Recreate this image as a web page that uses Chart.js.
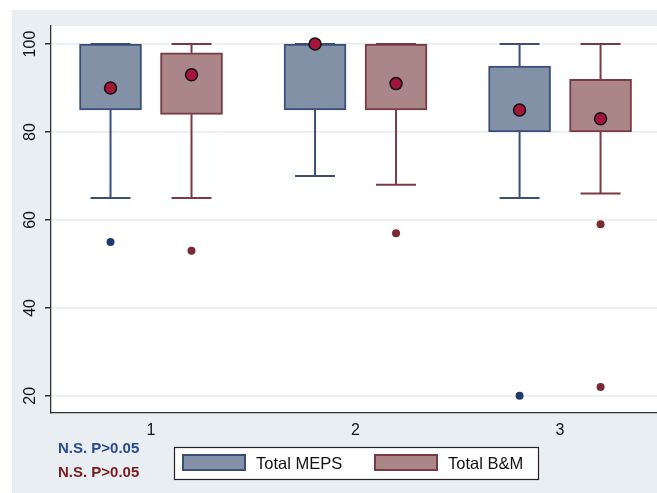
<!DOCTYPE html>
<html>
<head>
<meta charset="utf-8">
<script src="https://cdn.jsdelivr.net/npm/chart.js@4.4.1/dist/chart.umd.min.js"></script>
<style>
  html, body { margin: 0; padding: 0; background: #fff; }
  #wrap { width: 657px; height: 493px; position: relative; }
</style>
</head>
<body>
<div id="wrap"><canvas id="myChart" width="657" height="493"></canvas></div>
<script>
// data
const categories = [1, 2, 3];
const seriesNames = ['Total MEPS', 'Total B&M'];

const mepsLow = [65, 70, 65];
const mepsQ1 = [85, 85, 80];
const mepsQ3 = [100, 100, 95];
const mepsHigh = [100, 100, 100];
const mepsMean = [90, 100, 85];
const mepsOutliers = [[55], [], [20]];

const bmLow = [65, 68, 66];
const bmQ1 = [84, 85, 80];
const bmQ3 = [98, 100, 92];
const bmHigh = [100, 100, 100];
const bmMean = [93, 91, 83];
const bmOutliers = [[53], [57], [59, 22]];

const yTicks = [20, 40, 60, 80, 100];
const notes = ['N.S. P>0.05', 'N.S. P>0.05'];

// styles
const shift = 0.198;
const fills = ['#8391a7', '#aa8689'];
const borders = ['#3b4e7a', '#7a3a43'];
const outlierColors = ['#1f3a6e', '#7b2a33'];
const meanColor = '#a3163a';
const noteColors = ['#2a4a8e', '#7a1c1e'];
const font = 'Liberation Sans, Arial, Helvetica, sans-serif';

const series = [
  { low: mepsLow, q1: mepsQ1, q3: mepsQ3, high: mepsHigh, mean: mepsMean, out: mepsOutliers, off: -shift },
  { low: bmLow, q1: bmQ1, q3: bmQ3, high: bmHigh, mean: bmMean, out: bmOutliers, off: shift }
];

const datasets = [];
series.forEach((s, i) => {
  datasets.push({
    type: 'bar',
    label: seriesNames[i],
    data: categories.map((c, j) => ({ x: c + s.off, y: [s.q1[j], s.q3[j]] })),
    backgroundColor: fills[i],
    borderColor: borders[i],
    borderWidth: 2,
    borderSkipped: false,
    barThickness: 62,
    grouped: false,
    order: 3
  });
  const outPts = [];
  categories.forEach((c, j) => s.out[j].forEach(v => outPts.push({ x: c + s.off, y: v })));
  datasets.push({
    type: 'scatter',
    label: seriesNames[i] + ' outliers',
    data: outPts,
    pointRadius: 4,
    pointBackgroundColor: outlierColors[i],
    pointBorderWidth: 0,
    order: 2
  });
  datasets.push({
    type: 'scatter',
    label: seriesNames[i] + ' mean',
    data: categories.map((c, j) => ({ x: c + s.off, y: s.mean[j] })),
    pointRadius: 6,
    pointBackgroundColor: meanColor,
    pointBorderColor: '#111',
    pointBorderWidth: 1.5,
    order: 1
  });
});

// background, whiskers, notes and framed legend
const decor = {
  id: 'decor',
  beforeDraw(chart) {
    const c = chart.ctx, a = chart.chartArea;
    c.save();
    c.fillStyle = '#fff';
    c.fillRect(0, 0, chart.width, chart.height);
    c.fillStyle = '#e8eef2';
    c.fillRect(12, 10, chart.width - 12, chart.height - 10);
    c.fillStyle = '#fff';
    c.fillRect(a.left, a.top, a.right - a.left, a.bottom - a.top);
    c.restore();
  },
  beforeDatasetsDraw(chart) {
    const c = chart.ctx, x = chart.scales.x, y = chart.scales.y;
    c.save();
    c.lineWidth = 2;
    series.forEach((s, i) => {
      c.strokeStyle = borders[i];
      categories.forEach((cat, j) => {
        const px = x.getPixelForValue(cat + s.off);
        const segs = [[s.low[j], s.q1[j]], [s.q3[j], s.high[j]]];
        segs.forEach(([from, to]) => {
          if (from === to) return;
          c.beginPath();
          c.moveTo(px, y.getPixelForValue(from));
          c.lineTo(px, y.getPixelForValue(to));
          c.stroke();
        });
        [s.low[j], s.high[j]].forEach(v => {
          c.beginPath();
          c.moveTo(px - 20, y.getPixelForValue(v));
          c.lineTo(px + 20, y.getPixelForValue(v));
          c.stroke();
        });
      });
    });
    c.restore();
  },
  afterDraw(chart) {
    const c = chart.ctx;
    c.save();
    // p-value notes
    c.font = 'bold 15px ' + font;
    c.textBaseline = 'middle';
    c.textAlign = 'left';
    notes.forEach((t, i) => {
      c.fillStyle = noteColors[i];
      c.fillText(t, 58, 449 + i * 24);
    });
    // legend
    c.fillStyle = '#fff';
    c.fillRect(174, 447, 364, 32);
    c.strokeStyle = '#222';
    c.lineWidth = 1.2;
    c.strokeRect(174.5, 447.5, 364, 32);
    const itemX = [182, 374];
    c.font = '16.5px ' + font;
    seriesNames.forEach((name, i) => {
      c.fillStyle = fills[i];
      c.fillRect(itemX[i], 454, 64, 17);
      c.strokeStyle = borders[i];
      c.lineWidth = 2;
      c.strokeRect(itemX[i] + 1, 455, 62, 15);
      c.fillStyle = '#111';
      c.fillText(name, itemX[i] + 74, 464);
    });
    c.restore();
  }
};

function noPad(s) {
  s.paddingLeft = 0;
  s.paddingRight = 0;
  s.paddingTop = 0;
  s.paddingBottom = 0;
}

const ctx = document.getElementById('myChart').getContext('2d');
const myChart = new Chart(ctx, {
  data: { datasets: datasets },
  options: {
    responsive: false,
    animation: false,
    layout: { autoPadding: false, padding: { left: 12, top: 26, right: 0, bottom: 54 } },
    plugins: {
      legend: { display: false },
      tooltip: { enabled: false }
    },
    scales: {
      x: {
        type: 'linear',
        min: 0.511,
        max: 3.474,
        offset: false,
        afterBuildTicks: (s) => { s.ticks = categories.map(v => ({ value: v })); },
        afterFit: (s) => { s.height = 26; noPad(s); },
        grid: { display: false, drawTicks: false, offset: false },
        border: { display: true, color: '#333', width: 1.3 },
        ticks: { padding: 8, color: '#111', font: { family: font, size: 16 } }
      },
      y: {
        min: 16.1,
        max: 104.1,
        afterBuildTicks: (s) => { s.ticks = yTicks.map(v => ({ value: v })); },
        afterFit: (s) => { s.width = 39; noPad(s); },
        grid: { color: '#e6edf2', lineWidth: 1.5, tickColor: '#333', tickLength: 6 },
        border: { display: true, color: '#333', width: 1.3 },
        ticks: {
          minRotation: 90,
          maxRotation: 90,
          crossAlign: 'center',
          padding: 1,
          color: '#111',
          font: { family: font, size: 16 }
        }
      }
    }
  },
  plugins: [decor]
});
</script>
</body>
</html>
